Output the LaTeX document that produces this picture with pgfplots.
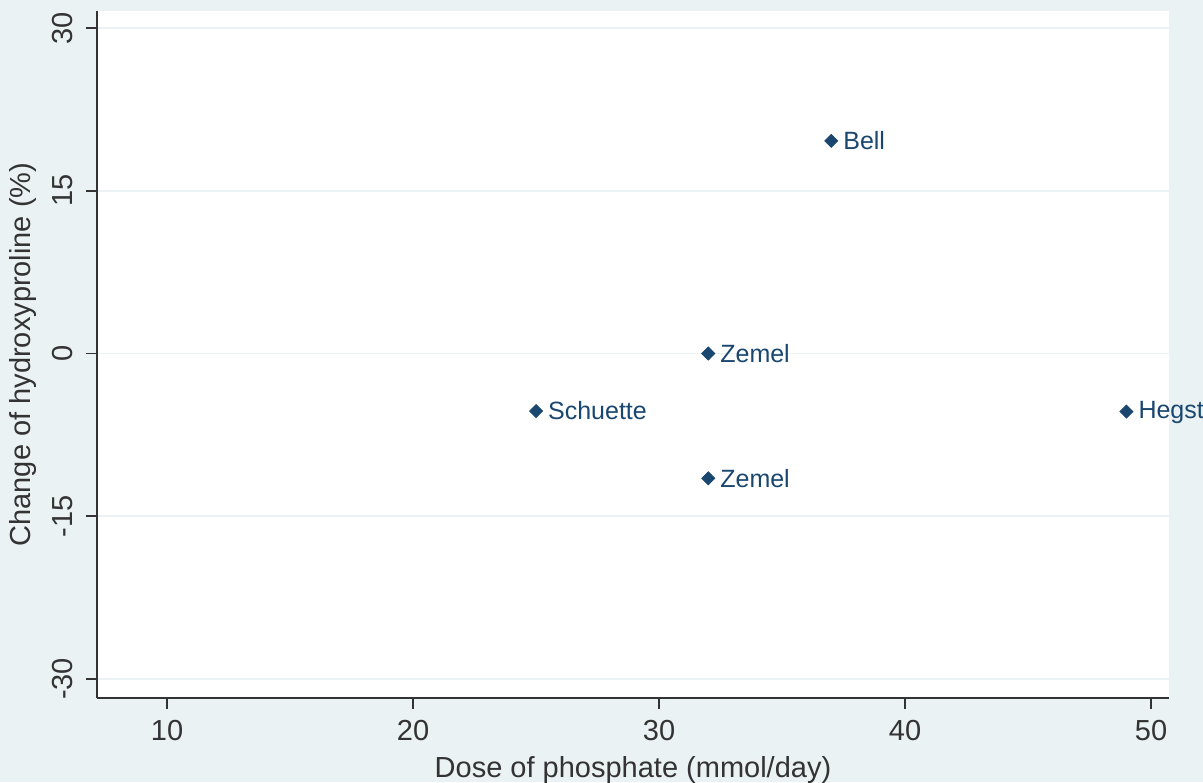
\documentclass[border=0pt]{standalone}
\usepackage{pgfplots}
\pgfplotsset{compat=1.18}
\usepackage{fontspec}
\setmainfont{Liberation Sans}
\definecolor{bgc}{HTML}{EAF2F3}
\definecolor{navy}{HTML}{1A476F}
\definecolor{axc}{HTML}{333333}
\pgfplotstableread{
x y label
37 19.6 Bell
32 0 Zemel
25 -5.3 Schuette
49 -5.35 Hegsted
32 -11.5 Zemel
}\datatab
\begin{document}
\begin{tikzpicture}[x=1pt,y=1pt]
\useasboundingbox (-48.5pt,-42pt) rectangle (553pt,349pt);
\clip (-48.5pt,-42pt) rectangle (553pt,349pt);
\fill[bgc] (-48.5pt,-42pt) rectangle (553pt,349pt);
\begin{axis}[
  at={(0,0)}, anchor=south west,
  scale only axis, width=536pt, height=343.5pt,
  xmin=7.15, xmax=50.73, ymin=-31.75, ymax=31.57,
  axis background/.style={fill=white},
  axis x line*=bottom, axis y line*=left,
  axis line style={axc, line width=0.9pt},
  xtick={10,20,30,40,50}, ytick={-30,-15,0,15,30},
  tick align=outside, major tick length=5.5pt,
  tick style={axc, line width=0.9pt},
  ymajorgrids, grid style={bgc, line width=0.8pt},
  /pgf/number format/assume math mode=true,
  ticklabel style={font=\fontsize{14.5}{16}\selectfont, text=axc},
  yticklabel style={rotate=90, anchor=south},
  xticklabel shift=2pt, yticklabel shift=3pt,
  xlabel={Dose of phosphate (mmol/day)},
  ylabel={Change of hydroxyproline (\%)},
  label style={font=\fontsize{14.5}{16}\selectfont, text=axc},
  xlabel style={yshift=-1pt},
  ylabel style={yshift=1pt},
  clip=false,
]
\addplot[only marks, mark=square*, mark size=2.3pt, mark options={rotate=45}, color=navy,
  nodes near coords, point meta=explicit symbolic,
  every node near coord/.style={anchor=west, xshift=2.5pt, font=\fontsize{12.5}{14}\selectfont, text=navy}]
  table[x=x, y=y, meta=label] {\datatab};
\end{axis}
\end{tikzpicture}
\end{document}
